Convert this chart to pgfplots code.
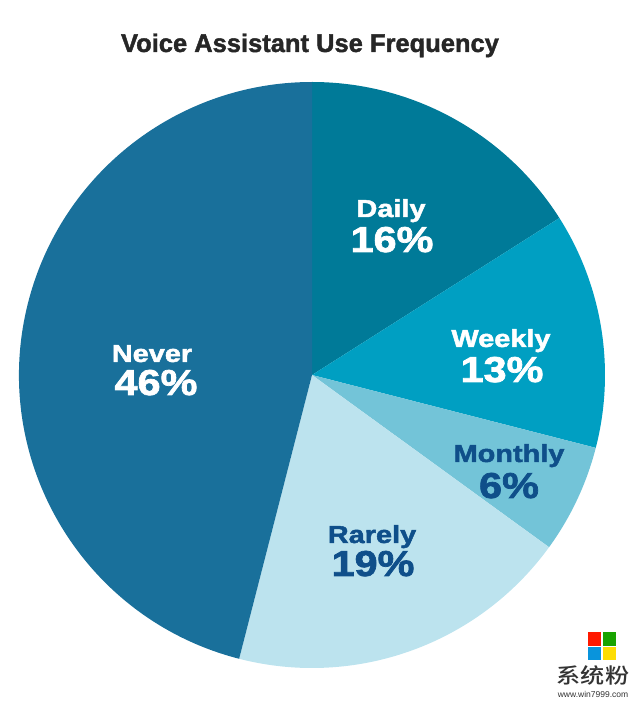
\documentclass[border=0pt]{standalone}
\usepackage{fontspec}
\setmainfont{Liberation Sans}
\newfontfamily\heavy[FakeBold=1.6]{Liberation Sans Bold}
\newfontfamily\heavyw[FakeBold=2,FakeStretch=1.18]{Liberation Sans Bold}
\newfontfamily\heavyp[FakeBold=2,FakeStretch=1.15]{Liberation Sans Bold}
\newfontfamily\cjk[FakeStretch=1.15]{Noto Sans CJK SC Medium}
\usepackage{pgfplots}
\usepackage{pgfplotstable}
\pgfplotsset{compat=1.18}

\definecolor{slice0}{HTML}{007A98}
\definecolor{slice1}{HTML}{009FC2}
\definecolor{slice2}{HTML}{73C4D8}
\definecolor{slice3}{HTML}{BCE3EE}
\definecolor{slice4}{HTML}{19709B}
\definecolor{darklab}{HTML}{0F4F8A}

% share of respondents, clockwise from 12 o'clock
\pgfplotstableread{
label   pct
Daily   16
Weekly  13
Monthly 6
Rarely  19
Never   46
}\piedata

\begin{document}
\begin{tikzpicture}
\path[use as bounding box] (0,0) rectangle (640pt,705pt);
\begin{axis}[
    x=1pt, y=1pt,
    xmin=0, xmax=640, ymin=0, ymax=705,
    hide axis,
    clip=false,
    anchor=origin, at={(0,0)},
  ]
  \pgfplotsextra{
    \global\def\startang{90}
    \pgfplotstableforeachcolumnelement{pct}\of\piedata\as\p{%
      \pgfmathsetmacro\endang{\startang-3.6*\p}%
      \fill[slice\pgfplotstablerow] (axis cs:312,330)
        -- (axis cs:{312+293*cos(\startang)},{330+293*sin(\startang)})
        arc[start angle=\startang, end angle=\endang, radius=293pt] -- cycle;
      \global\let\startang\endang
    }
  }
  % title
  \node[anchor=base, font=\heavy\fontsize{25.5}{28}\selectfont, text=black!85]
    at (axis cs:310,653) {Voice Assistant Use Frequency};
  % slice labels
  \tikzset{lw/.style={anchor=base, font=\heavyw\fontsize{24.5}{26}\selectfont},
           lp/.style={anchor=base, font=\heavyp\fontsize{36}{38}\selectfont}}
  \node[lw, white] at (axis cs:391,488) {Daily};
  \node[lp, white] at (axis cs:392,453) {16\%};
  \node[lw, white] at (axis cs:501,358) {Weekly};
  \node[lp, white] at (axis cs:502,323) {13\%};
  \node[lw, darklab] at (axis cs:509,243) {Monthly};
  \node[lp, darklab] at (axis cs:509,207) {6\%};
  \node[lw, darklab] at (axis cs:372,162) {Rarely};
  \node[lp, darklab] at (axis cs:373,129) {19\%};
  \node[lw, white] at (axis cs:152,343) {Never};
  \node[lp, white] at (axis cs:156,310) {46\%};
  % watermark
  \fill[red!80!orange] (axis cs:588,59) rectangle (axis cs:601,73);
  \fill[green!60!black!90!yellow] (axis cs:603,59) rectangle (axis cs:616,73);
  \fill[cyan!80!blue] (axis cs:588,45) rectangle (axis cs:601,58);
  \fill[yellow!80!orange] (axis cs:603,45) rectangle (axis cs:616,58);
  \node[anchor=base, font=\cjk\fontsize{21}{22}\selectfont, text=black!80]
    at (axis cs:593,21) {系统粉};
  \node[anchor=base, font=\fontsize{8.5}{10}\selectfont, text=black!80]
    at (axis cs:593,8) {www.win7999.com};
\end{axis}
\end{tikzpicture}
\end{document}
